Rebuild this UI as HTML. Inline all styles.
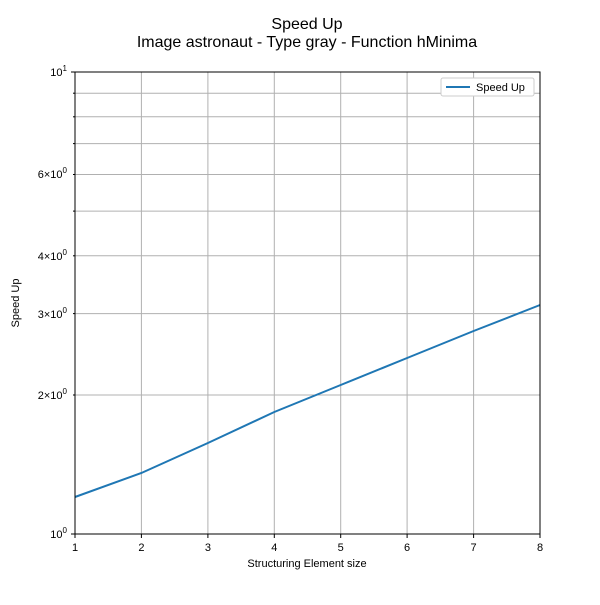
<!DOCTYPE html>
<html><head><style>body{margin:0;background:#fff}</style></head><body>
<svg width="600" height="600" xmlns="http://www.w3.org/2000/svg" font-family="Liberation Sans, DejaVu Sans, sans-serif">
<rect width="600" height="600" fill="#fff"/>
<text x="307" y="29" font-size="16" text-anchor="middle">Speed Up</text>
<text x="307" y="47" font-size="16" text-anchor="middle">Image astronaut - Type gray - Function hMinima</text>
<g stroke="#b0b0b0" stroke-width="1">
<line x1="141.4" y1="72" x2="141.4" y2="534"/><line x1="207.9" y1="72" x2="207.9" y2="534"/>
<line x1="274.3" y1="72" x2="274.3" y2="534"/><line x1="340.7" y1="72" x2="340.7" y2="534"/>
<line x1="407.1" y1="72" x2="407.1" y2="534"/><line x1="473.6" y1="72" x2="473.6" y2="534"/>
<line x1="75" y1="395" x2="540" y2="395"/><line x1="75" y1="313.6" x2="540" y2="313.6"/>
<line x1="75" y1="255.8" x2="540" y2="255.8"/><line x1="75" y1="211.1" x2="540" y2="211.1"/>
<line x1="75" y1="174.5" x2="540" y2="174.5"/><line x1="75" y1="143.6" x2="540" y2="143.6"/>
<line x1="75" y1="116.8" x2="540" y2="116.8"/><line x1="75" y1="93.2" x2="540" y2="93.2"/>
</g>
<polyline fill="none" stroke="#1f77b4" stroke-width="2" points="75,497 141.4,473 207.9,443 274.3,412 340.7,385 407.1,358 473.6,331 540,305"/>
<rect x="75" y="72" width="465" height="462" fill="none" stroke="#000" stroke-width="1"/>
<g stroke="#000" stroke-width="1">
<line x1="75" y1="534" x2="75" y2="538"/><line x1="141.4" y1="534" x2="141.4" y2="538"/><line x1="207.9" y1="534" x2="207.9" y2="538"/><line x1="274.3" y1="534" x2="274.3" y2="538"/><line x1="340.7" y1="534" x2="340.7" y2="538"/><line x1="407.1" y1="534" x2="407.1" y2="538"/><line x1="473.6" y1="534" x2="473.6" y2="538"/><line x1="540" y1="534" x2="540" y2="538"/>
<line x1="71" y1="534" x2="75" y2="534"/><line x1="71" y1="72" x2="75" y2="72"/>
<line x1="73" y1="395" x2="75" y2="395"/><line x1="73" y1="313.6" x2="75" y2="313.6"/><line x1="73" y1="255.8" x2="75" y2="255.8"/><line x1="73" y1="211.1" x2="75" y2="211.1"/><line x1="73" y1="174.5" x2="75" y2="174.5"/><line x1="73" y1="143.6" x2="75" y2="143.6"/><line x1="73" y1="116.8" x2="75" y2="116.8"/><line x1="73" y1="93.2" x2="75" y2="93.2"/>
</g>
<g font-size="11" text-anchor="middle">
<text x="75" y="551">1</text><text x="141.4" y="551">2</text><text x="207.9" y="551">3</text><text x="274.3" y="551">4</text><text x="340.7" y="551">5</text><text x="407.1" y="551">6</text><text x="473.6" y="551">7</text><text x="540" y="551">8</text>
<text x="307" y="567">Structuring Element size</text>
</g>
<g font-size="11" text-anchor="end">
<text x="67" y="538">10<tspan font-size="8" dy="-5">0</tspan></text>
<text x="67" y="76">10<tspan font-size="8" dy="-5">1</tspan></text>
<text x="67" y="399">2×10<tspan font-size="8" dy="-5">0</tspan></text>
<text x="67" y="318">3×10<tspan font-size="8" dy="-5">0</tspan></text>
<text x="67" y="260">4×10<tspan font-size="8" dy="-5">0</tspan></text>
<text x="67" y="178">6×10<tspan font-size="8" dy="-5">0</tspan></text>
</g>
<text x="19" y="303" font-size="11" text-anchor="middle" transform="rotate(-90 19 303)">Speed Up</text>
<rect x="441" y="78" width="93" height="18" fill="#fff" stroke="#ccc" rx="2"/>
<line x1="446" y1="87" x2="470" y2="87" stroke="#1f77b4" stroke-width="2"/>
<text x="476" y="91" font-size="11">Speed Up</text>
</svg>
</body></html>
